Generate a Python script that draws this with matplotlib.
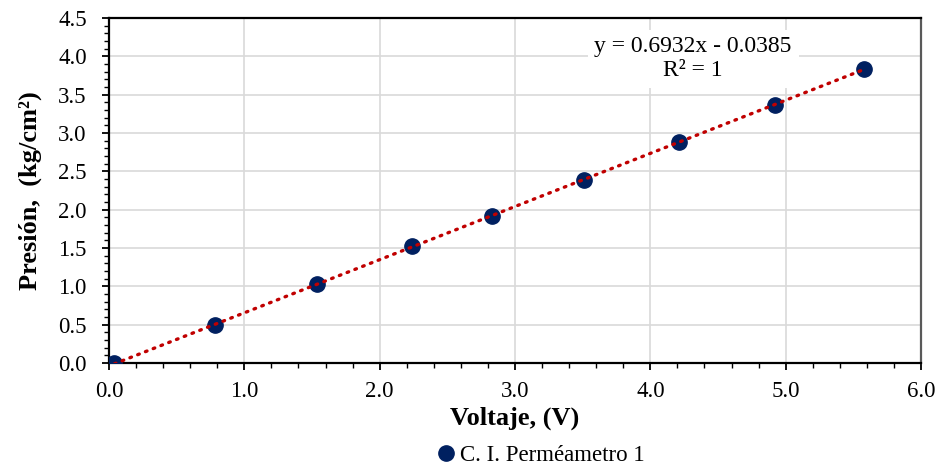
import numpy as np
import matplotlib
matplotlib.use("Agg")
import matplotlib.pyplot as plt
from matplotlib.ticker import MultipleLocator, FormatStrFormatter

# data
voltaje = [0.04, 0.78, 1.54, 2.24, 2.83, 3.51, 4.21, 4.92, 5.58]
presion = [0.00, 0.50, 1.03, 1.52, 1.92, 2.39, 2.88, 3.37, 3.84]
serie = 'C. I. Perméametro 1'
pendiente, intercepto = 0.6932, -0.0385

plt.rcParams['font.family'] = ['Liberation Serif', 'DejaVu Serif']

fig = plt.figure(figsize=(9.38, 4.70), dpi=100)
ax = fig.add_axes([109/938, 1 - 363/470, (921 - 109)/938, (363 - 18)/470])

# linear trendline over the data range
xt = np.array([min(voltaje), max(voltaje)])
ax.plot(xt, pendiente*xt + intercepto, color='#C00000', lw=2.4,
        linestyle=(0, (0.5, 2.0)), dash_capstyle='round', zorder=4)
ax.plot(voltaje, presion, 'o', color='#002060', ms=11, zorder=3, label=serie)

ax.set_xlim(0, 6)
ax.set_ylim(0, 4.5)
ax.xaxis.set_major_locator(MultipleLocator(1.0))
ax.xaxis.set_minor_locator(MultipleLocator(0.2))
ax.yaxis.set_major_locator(MultipleLocator(0.5))
ax.yaxis.set_minor_locator(MultipleLocator(0.1))
ax.xaxis.set_major_formatter(FormatStrFormatter('%.1f'))
ax.yaxis.set_major_formatter(FormatStrFormatter('%.1f'))
ax.tick_params(which='major', direction='out', length=5, width=1.3, labelsize=16.5, colors='black')
ax.tick_params(which='minor', direction='out', length=3.5, width=1, colors='black')
ax.tick_params(axis='x', pad=8)
ax.tick_params(axis='y', pad=11)
ax.grid(which='major', color='#D9D9D9', lw=1.2)
ax.set_axisbelow(True)

for s in ['left', 'bottom', 'top']:
    ax.spines[s].set_linewidth(1.6)
    ax.spines[s].set_color('black')
ax.spines['right'].set_color('#595959')
ax.spines['right'].set_linewidth(1.6)

ax.set_xlabel('Voltaje, (V)', fontsize=19, fontweight='bold')
ax.set_ylabel('Presión,  (kg/cm²)', fontsize=19, fontweight='bold')
ax.xaxis.set_label_coords(0.5, -(418 - 363)/345, transform=ax.transAxes)
ax.yaxis.set_label_coords(-(109 - 30)/812, 0.5, transform=ax.transAxes)
ax.xaxis.label.set_va('center')
ax.yaxis.label.set_va('center')

ax.text(4.316, 3.97, 'y = 0.6932x - 0.0385\nR² = 1', fontsize=17, ha='center', va='center',
        linespacing=1.15, zorder=5,
        bbox=dict(facecolor='white', edgecolor='none', pad=5))

fig.legend(loc='center', bbox_to_anchor=(534/938, 1 - 455/470), frameon=False,
           fontsize=16.5, handletextpad=-0.4, markerscale=1.0, borderaxespad=0)

fig.savefig('out.png', dpi=100)
